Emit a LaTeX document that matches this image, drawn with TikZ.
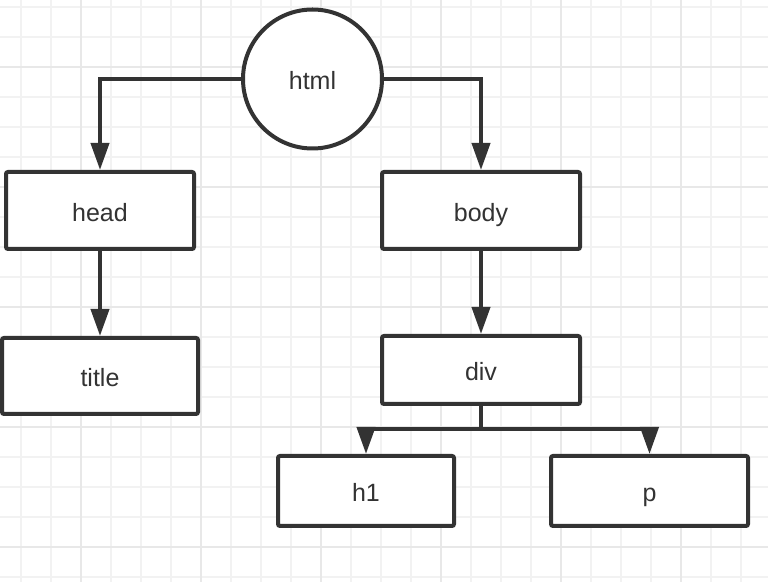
\documentclass[tikz,border=0pt]{standalone}
\usepackage{fontspec}
\setmainfont{Liberation Sans}
\usepackage{xcolor}
\usepackage{tikz}
\usetikzlibrary{arrows.meta,calc}
\definecolor{tinta}{HTML}{333333}
\definecolor{fina}{HTML}{F2F2F2}
\definecolor{gruesa}{HTML}{E8E8E8}

\begin{document}
\begin{tikzpicture}[
  x=0.5pt, y=-0.5pt,
  font=\fontsize{12.5}{15}\selectfont,
  nodo/.style={draw=tinta, text=tinta, line width=2pt, fill=white, rounded corners=1pt,
               inner sep=0pt, text height=12pt, text depth=1pt},
  raiz/.style={nodo, circle, minimum size=69.5pt},
  flecha/.style={-{Triangle[length=13.5pt, width=9pt]}, draw=tinta, line width=2pt},
  linea/.style={draw=tinta, line width=2pt}
]
  \useasboundingbox (0,0) rectangle (768,582);
  % rejilla de fondo
  \foreach \gx in {21,51,...,741} \draw[fina, line width=0.75pt] (\gx,0) -- (\gx,582);
  \foreach \gy in {7,37,...,577} \draw[fina, line width=0.75pt] (0,\gy) -- (768,\gy);
  \foreach \gx in {81,201,...,681} \draw[gruesa, line width=1pt] (\gx,0) -- (\gx,582);
  \foreach \gy in {67,187,...,547} \draw[gruesa, line width=1pt] (0,\gy) -- (768,\gy);

  \node[raiz] (html) at (312.5,79) {html};
  \node[nodo, minimum width=94pt, minimum height=38.5pt] (head) at (100,210.5) {head};
  \node[nodo, minimum width=99pt, minimum height=38.5pt] (body) at (481,210.5) {body};
  \node[nodo, minimum width=98pt, minimum height=38pt] (title) at (100,376) {title};
  \node[nodo, minimum width=99pt, minimum height=34pt] (div) at (481,370) {div};
  \node[nodo, minimum width=88pt, minimum height=35pt] (h1) at (366,491) {h1};
  \node[nodo, minimum width=98.5pt, minimum height=35pt] (p) at (649.5,491) {p};
  \coordinate (rama) at (481,429);

  \draw[flecha] (html.west) -| (head.north);
  \draw[flecha] (html.east) -| (body.north);
  \draw[flecha] (head) -- (title);
  \draw[flecha] (body) -- (div);
  \draw[linea] (div.south) -- (rama);
  \draw[flecha] (rama) -| (h1.north);
  \draw[flecha] (rama) -| (p.north);
\end{tikzpicture}
\end{document}
